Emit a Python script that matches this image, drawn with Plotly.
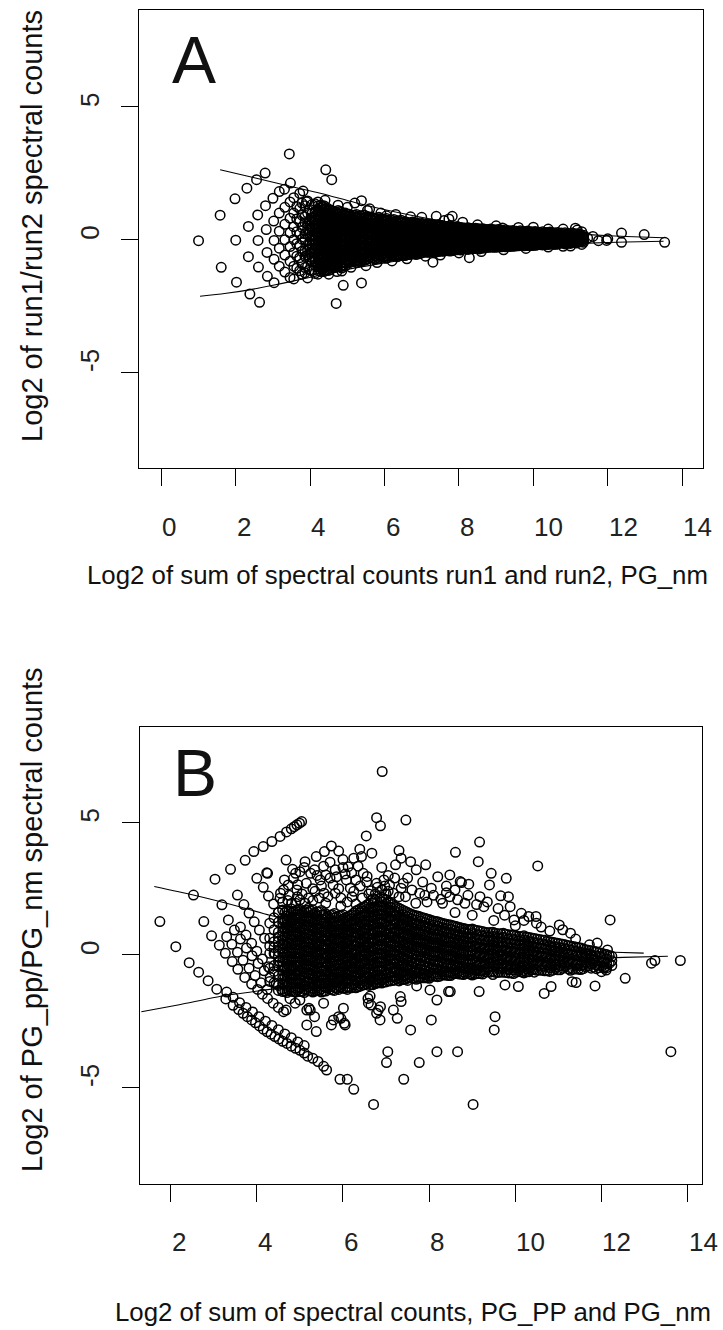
import plotly.graph_objects as go

FONT = "Liberation Sans, Arial, sans-serif"

# ---------------- Panel A data (x = log2 sum, y = log2 ratio) ----------------
a_sparse = [
    [1.0, -0.04], [1.58, 0.92], [1.61, -1.04], [1.98, 1.54], [2.0, -0.02], [2.02, -1.6],
    [2.3, 1.94], [2.34, 0.5], [2.34, -0.64], [2.38, -2.05],
    [2.56, 2.26], [2.59, 0.93], [2.6, -0.03], [2.61, -1.03], [2.64, -2.36],
    [2.79, 2.51], [2.8, 1.28], [2.82, 0.38], [2.84, -0.48], [2.85, -1.38],
    [3.0, 1.56], [3.02, 0.7], [3.03, -0.03], [3.03, -0.74], [3.03, -1.62],
    [3.44, 3.23], [3.31, 1.9], [3.47, 2.13], [3.81, 1.83], [3.9, 1.43],
    [4.42, 2.63], [4.58, 2.26], [4.89, -1.72], [5.38, -1.63], [4.7, -2.4],
    [5.38, 1.47], [5.54, 1.1], [7.3, -0.85], [7.39, 0.88], [7.73, 0.78], [8.1, 0.66],
    [7.82, 0.88], [8.28, -0.68], [8.6, 0.4], [9.17, 0.44], [10.0, 0.47], [11.13, 0.43],
    [11.18, 0.36], [11.22, -0.06], [11.46, 0.06], [11.6, 0.12], [11.75, -0.04], [10.8, -0.25],
    [12.0, 0.03], [11.97, -0.03], [12.37, 0.25], [12.37, -0.1], [12.98, 0.19], [13.53, -0.1],
]
a_edge = [
    [4.4, 1.48], [4.75, 1.3], [5.0, 1.22], [5.2, 1.38], [5.6, 1.16], [5.9, 1.0], [6.05, 0.9],
    [6.3, 0.95], [6.7, 0.86], [7.0, 0.84], [7.6, 0.72], [8.5, 0.56], [9.0, 0.52], [9.6, 0.46],
    [10.4, 0.4], [10.8, 0.4], [11.3, 0.3],
    [4.5, -1.3], [4.72, -1.2], [4.85, -1.18], [5.1, -1.04], [5.5, -0.98], [5.8, -0.86],
    [6.2, -0.8], [6.6, -0.72], [7.1, -0.62], [7.5, -0.58], [8.0, -0.5], [8.6, -0.45],
    [9.2, -0.38], [9.8, -0.33], [10.4, -0.28], [11.0, -0.24], [11.3, -0.18],
]
a_columns = [
    (3.17, [1.81, 1.0, 0.32, -0.32, -1.0]),
    (3.32, [1.22, 0.58, 0.0, -0.58, -1.22]),
    (3.46, [1.42, 0.81, 0.26, -0.26, -0.81, -1.42]),
    (3.56, [1.58, 1.0, 0.49, 0.0, -0.49, -1.0, -1.48]),
    (3.64, [1.25, 0.78, 0.3, -0.15, -0.62, -1.08]),
    (3.72, [1.74, 1.17, 0.68, 0.22, -0.22, -0.68, -1.17]),
    (3.78, [1.38, 0.92, 0.46, 0.02, -0.44, -0.9, -1.3]),
    (3.86, [1.28, 0.86, 0.64, 0.22, 0.0, -0.42, -0.63, -1.05, -1.25]),
    (3.93, [1.46, 1.0, 0.58, 0.38, 0.19, -0.19, -0.38, -0.58, -1.0, -1.44]),
    (3.99, [1.14, 0.74, 0.52, 0.36, 0.1, -0.12, -0.36, -0.52, -0.74, -1.14]),
    (4.05, [1.32, 0.99, 0.82, 0.66, 0.49, 0.33, 0.16, 0.0, -0.17, -0.33, -0.5, -0.66, -0.83,
            -1.16]),
    (4.13, [1.35, 1.04, 0.89, 0.74, 0.58, 0.43, 0.28, 0.12, -0.03, -0.19, -0.34, -0.49, -0.65,
            -0.8, -0.96, -1.27]),
    (4.21, [1.42, 1.28, 1.13, 0.99, 0.85, 0.7, 0.56, 0.42, 0.27, 0.13, -0.01, -0.16, -0.3,
            -0.44, -0.59, -0.73, -0.88, -1.02, -1.16, -1.3]),
    (4.29, [1.3, 1.18, 1.04, 0.9, 0.79, 0.65, 0.51, 0.4, 0.26, 0.12, 0.01, -0.13, -0.27, -0.38,
            -0.52, -0.66, -0.77, -0.91, -1.05, -1.2]),
    (4.37, [1.28, 1.15, 1.03, 0.9, 0.78, 0.66, 0.53, 0.41, 0.28, 0.16, 0.04, -0.09, -0.21,
            -0.34, -0.46, -0.58, -0.71, -0.83, -0.96, -1.08, -1.2]),
    (4.45, [1.2, 1.08, 0.97, 0.85, 0.73, 0.62, 0.5, 0.39, 0.27, 0.15, 0.04, -0.08, -0.2, -0.31,
            -0.43, -0.54, -0.66, -0.78, -0.89, -1.01, -1.13]),
    (4.55, [1.12, 1.0, 0.88, 0.77, 0.65, 0.53, 0.41, 0.3, 0.18, 0.06, -0.06, -0.17, -0.29,
            -0.41, -0.53, -0.64, -0.76, -0.88, -1.0, -1.12]),
    (4.65, [1.06, 0.94, 0.82, 0.71, 0.59, 0.47, 0.36, 0.24, 0.12, 0.01, -0.11, -0.23, -0.34,
            -0.46, -0.58, -0.7, -0.81, -0.93, -1.05]),
    (4.75, [1.1, 0.98, 0.86, 0.75, 0.63, 0.51, 0.4, 0.28, 0.16, 0.05, -0.07, -0.19, -0.3,
            -0.42, -0.54, -0.65, -0.77, -0.89, -1.0]),
    (4.85, [1.03, 0.91, 0.8, 0.68, 0.56, 0.45, 0.33, 0.21, 0.1, -0.02, -0.14, -0.25, -0.37,
            -0.49, -0.6, -0.72, -0.84, -0.96, -1.07]),
    (4.95, [1.0, 0.88, 0.77, 0.65, 0.53, 0.42, 0.3, 0.18, 0.07, -0.05, -0.17, -0.28, -0.4,
            -0.52, -0.63, -0.75, -0.87, -0.98]),
    (5.05, [0.96, 0.85, 0.73, 0.62, 0.5, 0.39, 0.28, 0.16, 0.05, -0.07, -0.18, -0.3, -0.41,
            -0.52, -0.64, -0.75, -0.86]),
    (5.15, [0.92, 0.8, 0.69, 0.57, 0.46, 0.35, 0.23, 0.12, 0.0, -0.11, -0.22, -0.34, -0.45,
            -0.57, -0.68, -0.8]),
    (5.25, [0.95, 0.84, 0.72, 0.61, 0.5, 0.38, 0.27, 0.15, 0.04, -0.08, -0.19, -0.3, -0.42,
            -0.53, -0.65, -0.76, -0.86]),
    (5.35, [0.9, 0.79, 0.67, 0.56, 0.44, 0.33, 0.22, 0.1, -0.01, -0.13, -0.24, -0.35, -0.47,
            -0.58, -0.7, -0.81]),
    (5.45, [0.93, 0.82, 0.7, 0.59, 0.47, 0.36, 0.25, 0.13, 0.02, -0.1, -0.21, -0.32, -0.44,
            -0.55, -0.67, -0.78]),
    (5.55, [0.87, 0.76, 0.64, 0.53, 0.42, 0.3, 0.19, 0.07, -0.04, -0.15, -0.27, -0.38, -0.5,
            -0.61, -0.72]),
    (5.65, [0.85, 0.74, 0.63, 0.52, 0.41, 0.3, 0.19, 0.08, -0.03, -0.14, -0.25, -0.36, -0.47,
            -0.58, -0.69]),
    (5.75, [0.81, 0.7, 0.59, 0.48, 0.37, 0.26, 0.15, 0.04, -0.07, -0.18, -0.29, -0.4, -0.51,
            -0.62, -0.73]),
    (5.85, [0.84, 0.73, 0.62, 0.51, 0.4, 0.29, 0.18, 0.07, -0.04, -0.15, -0.26, -0.37, -0.48,
            -0.59, -0.7]),
    (5.95, [0.78, 0.67, 0.56, 0.45, 0.34, 0.23, 0.12, 0.01, -0.1, -0.21, -0.32, -0.43, -0.54,
            -0.65]),
    (6.05, [0.8, 0.69, 0.58, 0.47, 0.36, 0.26, 0.15, 0.04, -0.07, -0.18, -0.28, -0.39, -0.5,
            -0.61, -0.7]),
    (6.15, [0.74, 0.63, 0.53, 0.42, 0.32, 0.21, 0.11, 0.0, -0.1, -0.21, -0.31, -0.42, -0.52,
            -0.63]),
    (6.25, [0.76, 0.66, 0.55, 0.45, 0.34, 0.24, 0.13, 0.03, -0.08, -0.18, -0.29, -0.39, -0.5,
            -0.6]),
    (6.35, [0.71, 0.61, 0.5, 0.4, 0.29, 0.19, 0.08, -0.02, -0.13, -0.23, -0.34, -0.44, -0.55,
            -0.64]),
    (6.45, [0.73, 0.63, 0.52, 0.42, 0.32, 0.21, 0.11, 0.01, -0.1, -0.2, -0.3, -0.41, -0.51,
            -0.6]),
    (6.55, [0.68, 0.58, 0.48, 0.38, 0.28, 0.18, 0.08, -0.02, -0.12, -0.22, -0.32, -0.42, -0.52,
            -0.6]),
    (6.65, [0.64, 0.54, 0.44, 0.34, 0.24, 0.14, 0.04, -0.06, -0.16, -0.26, -0.36, -0.46, -0.55]),
    (6.75, [0.67, 0.57, 0.47, 0.37, 0.27, 0.17, 0.07, -0.03, -0.13, -0.23, -0.33, -0.43, -0.53]),
    (6.85, [0.62, 0.52, 0.42, 0.32, 0.22, 0.12, 0.02, -0.08, -0.18, -0.28, -0.38, -0.48, -0.56]),
    (6.95, [0.64, 0.55, 0.45, 0.35, 0.25, 0.15, 0.05, -0.05, -0.15, -0.25, -0.35, -0.45, -0.53]),
    (7.05, [0.6, 0.5, 0.41, 0.31, 0.22, 0.12, 0.03, -0.07, -0.16, -0.26, -0.35, -0.45]),
    (7.15, [0.57, 0.48, 0.38, 0.29, 0.19, 0.1, 0.0, -0.09, -0.19, -0.28, -0.38, -0.47]),
    (7.25, [0.59, 0.5, 0.4, 0.31, 0.21, 0.12, 0.02, -0.07, -0.17, -0.26, -0.36, -0.45]),
    (7.35, [0.55, 0.46, 0.36, 0.27, 0.17, 0.08, -0.02, -0.11, -0.21, -0.3, -0.4, -0.48]),
    (7.45, [0.57, 0.48, 0.38, 0.29, 0.2, 0.1, 0.01, -0.08, -0.18, -0.27, -0.36, -0.45]),
    (7.55, [0.53, 0.44, 0.35, 0.26, 0.17, 0.08, -0.01, -0.1, -0.19, -0.28, -0.37, -0.44]),
    (7.65, [0.5, 0.41, 0.32, 0.23, 0.14, 0.05, -0.04, -0.13, -0.22, -0.31, -0.4]),
    (7.75, [0.52, 0.43, 0.34, 0.25, 0.16, 0.07, -0.02, -0.11, -0.2, -0.29, -0.38, -0.43]),
    (7.85, [0.48, 0.39, 0.3, 0.21, 0.12, 0.03, -0.06, -0.15, -0.24, -0.33, -0.41]),
    (7.95, [0.5, 0.41, 0.32, 0.24, 0.15, 0.06, -0.03, -0.12, -0.2, -0.29, -0.38]),
    (8.05, [0.46, 0.37, 0.28, 0.2, 0.11, 0.02, -0.07, -0.15, -0.24, -0.33, -0.39]),
    (8.15, [0.44, 0.35, 0.27, 0.18, 0.1, 0.01, -0.08, -0.16, -0.25, -0.34]),
    (8.25, [0.45, 0.36, 0.28, 0.19, 0.11, 0.02, -0.07, -0.15, -0.24, -0.32, -0.37]),
    (8.35, [0.42, 0.34, 0.25, 0.17, 0.08, 0.0, -0.09, -0.17, -0.26, -0.34]),
    (8.45, [0.43, 0.35, 0.26, 0.18, 0.09, 0.01, -0.08, -0.16, -0.25, -0.33]),
    (8.55, [0.4, 0.32, 0.23, 0.15, 0.06, -0.02, -0.11, -0.19, -0.28, -0.35]),
    (8.65, [0.41, 0.33, 0.24, 0.16, 0.07, -0.01, -0.1, -0.18, -0.27, -0.32]),
    (8.75, [0.38, 0.3, 0.21, 0.13, 0.04, -0.04, -0.13, -0.21, -0.29]),
    (8.85, [0.4, 0.32, 0.23, 0.15, 0.06, -0.02, -0.11, -0.19, -0.28]),
    (8.95, [0.37, 0.29, 0.2, 0.12, 0.03, -0.05, -0.14, -0.22, -0.29]),
    (9.05, [0.38, 0.3, 0.21, 0.13, 0.05, -0.04, -0.12, -0.2, -0.28]),
    (9.15, [0.36, 0.28, 0.19, 0.11, 0.03, -0.06, -0.14, -0.22, -0.27]),
    (9.25, [0.37, 0.29, 0.21, 0.12, 0.04, -0.04, -0.13, -0.21, -0.27]),
    (9.35, [0.34, 0.26, 0.18, 0.1, 0.02, -0.06, -0.14, -0.22, -0.26]),
    (9.45, [0.35, 0.27, 0.19, 0.11, 0.03, -0.05, -0.13, -0.21, -0.25]),
    (9.55, [0.32, 0.24, 0.16, 0.08, 0.0, -0.08, -0.16, -0.23]),
    (9.65, [0.34, 0.26, 0.18, 0.1, 0.02, -0.06, -0.14, -0.22]),
    (9.75, [0.31, 0.23, 0.15, 0.07, -0.01, -0.09, -0.17, -0.23]),
    (9.85, [0.33, 0.25, 0.17, 0.09, 0.01, -0.07, -0.15, -0.22]),
    (9.95, [0.3, 0.22, 0.14, 0.06, -0.02, -0.1, -0.18, -0.22]),
    (10.05, [0.31, 0.23, 0.15, 0.08, 0.0, -0.08, -0.15, -0.21]),
    (10.15, [0.28, 0.2, 0.13, 0.05, -0.03, -0.1, -0.18]),
    (10.25, [0.3, 0.22, 0.15, 0.07, -0.01, -0.08, -0.16, -0.2]),
    (10.35, [0.27, 0.19, 0.12, 0.04, -0.04, -0.11, -0.18]),
    (10.45, [0.29, 0.21, 0.14, 0.06, -0.02, -0.09, -0.17]),
    (10.55, [0.26, 0.18, 0.11, 0.03, -0.05, -0.12, -0.18]),
    (10.65, [0.27, 0.19, 0.12, 0.05, -0.03, -0.1, -0.17]),
    (10.75, [0.25, 0.17, 0.1, 0.03, -0.05, -0.12]),
    (10.85, [0.26, 0.18, 0.11, 0.04, -0.04, -0.11, -0.16]),
    (10.95, [0.23, 0.16, 0.09, 0.02, -0.06, -0.13]),
    (11.05, [0.25, 0.17, 0.1, 0.03, -0.04, -0.11]),
    (11.15, [0.22, 0.15, 0.08, 0.01, -0.06, -0.13]),
    (11.25, [0.2, 0.13, 0.06, -0.01, -0.08]),
    (11.35, [0.17, 0.1, 0.03, -0.04, -0.1]),
]
# further points read in the solid core of panel A (between the columns above)
a_columns_fill = [
    (4.25, [1.2, 0.95, 0.7, 0.47, 0.2, -0.06, -0.33, -0.6, -0.85, -1.1]),
    (4.33, [1.24, 0.98, 0.72, 0.45, 0.19, -0.08, -0.32, -0.56, -0.82, -1.12]),
    (4.41, [1.16, 0.92, 0.67, 0.44, 0.21, -0.02, -0.26, -0.49, -0.72, -0.95, -1.17]),
    (4.5, [1.14, 0.93, 0.71, 0.47, 0.24, 0.01, -0.23, -0.46, -0.69, -0.93, -1.16]),
    (4.6, [1.08, 0.88, 0.65, 0.42, 0.2, -0.04, -0.28, -0.52, -0.75, -0.99]),
    (4.7, [1.04, 0.81, 0.57, 0.34, 0.1, -0.13, -0.36, -0.6, -0.83, -1.03]),
    (4.8, [1.06, 0.85, 0.62, 0.39, 0.15, -0.08, -0.31, -0.55, -0.79, -1.02]),
    (4.9, [0.98, 0.76, 0.53, 0.3, 0.06, -0.17, -0.4, -0.63, -0.86, -1.0]),
    (5.0, [0.95, 0.78, 0.55, 0.33, 0.1, -0.12, -0.35, -0.58, -0.8]),
    (5.1, [0.9, 0.68, 0.45, 0.22, 0.0, -0.23, -0.46, -0.68, -0.84]),
    (5.2, [0.92, 0.72, 0.5, 0.28, 0.06, -0.16, -0.38, -0.6, -0.8]),
    (5.3, [0.86, 0.64, 0.42, 0.2, -0.02, -0.24, -0.46, -0.68, -0.82]),
    (5.4, [0.88, 0.66, 0.44, 0.22, 0.0, -0.22, -0.44, -0.66, -0.78]),
    (5.5, [0.84, 0.62, 0.41, 0.2, -0.02, -0.23, -0.45, -0.66, -0.76]),
    (5.6, [0.82, 0.6, 0.39, 0.18, -0.03, -0.24, -0.45, -0.66]),
    (5.7, [0.8, 0.59, 0.38, 0.17, -0.04, -0.25, -0.46, -0.68]),
    (5.8, [0.79, 0.58, 0.37, 0.16, -0.05, -0.26, -0.47, -0.66]),
    (5.9, [0.8, 0.6, 0.4, 0.2, 0.0, -0.2, -0.4, -0.6]),
    (6.0, [0.76, 0.56, 0.36, 0.16, -0.04, -0.24, -0.44, -0.64]),
    (6.1, [0.72, 0.52, 0.33, 0.14, -0.06, -0.25, -0.45, -0.62]),
    (6.2, [0.73, 0.54, 0.35, 0.16, -0.03, -0.22, -0.41, -0.6]),
    (6.3, [0.69, 0.5, 0.31, 0.12, -0.07, -0.26, -0.45, -0.6]),
    (6.4, [0.7, 0.51, 0.32, 0.14, -0.05, -0.23, -0.42, -0.58]),
    (6.5, [0.66, 0.48, 0.3, 0.12, -0.06, -0.24, -0.42, -0.56]),
    (6.6, [0.65, 0.47, 0.29, 0.11, -0.07, -0.25, -0.43, -0.55]),
    (6.7, [0.62, 0.44, 0.27, 0.1, -0.08, -0.25, -0.42, -0.54]),
    (6.8, [0.63, 0.46, 0.29, 0.12, -0.05, -0.22, -0.39, -0.52]),
    (6.9, [0.6, 0.43, 0.26, 0.09, -0.08, -0.25, -0.42, -0.51]),
    (7.0, [0.58, 0.41, 0.25, 0.08, -0.09, -0.25, -0.41, -0.5]),
    (7.1, [0.55, 0.39, 0.23, 0.07, -0.09, -0.25, -0.41]),
    (7.2, [0.56, 0.4, 0.24, 0.08, -0.08, -0.24, -0.4, -0.47]),
    (7.3, [0.54, 0.38, 0.22, 0.06, -0.1, -0.26, -0.42]),
    (7.4, [0.53, 0.38, 0.23, 0.08, -0.07, -0.22, -0.37, -0.46]),
    (7.5, [0.51, 0.36, 0.21, 0.06, -0.09, -0.24, -0.39]),
    (7.6, [0.5, 0.35, 0.2, 0.06, -0.09, -0.24, -0.38, -0.43]),
    (7.7, [0.48, 0.34, 0.2, 0.06, -0.08, -0.22, -0.36]),
    (7.8, [0.49, 0.35, 0.21, 0.07, -0.07, -0.21, -0.35, -0.42]),
    (7.9, [0.46, 0.33, 0.19, 0.05, -0.09, -0.22, -0.36]),
    (8.0, [0.47, 0.33, 0.2, 0.06, -0.07, -0.21, -0.34]),
    (8.1, [0.44, 0.31, 0.18, 0.05, -0.08, -0.21, -0.34]),
    (8.2, [0.43, 0.3, 0.17, 0.04, -0.09, -0.22, -0.35]),
    (8.3, [0.42, 0.29, 0.16, 0.03, -0.1, -0.22, -0.34]),
    (8.4, [0.4, 0.28, 0.15, 0.03, -0.1, -0.22, -0.33]),
    (8.5, [0.41, 0.29, 0.17, 0.05, -0.07, -0.19, -0.31]),
    (8.6, [0.39, 0.27, 0.15, 0.03, -0.09, -0.21, -0.31]),
    (8.7, [0.38, 0.27, 0.15, 0.04, -0.08, -0.19, -0.3]),
    (8.8, [0.36, 0.25, 0.14, 0.02, -0.09, -0.2, -0.29]),
    (8.9, [0.37, 0.26, 0.15, 0.04, -0.07, -0.18, -0.28]),
    (9.0, [0.35, 0.24, 0.13, 0.02, -0.09, -0.2, -0.28]),
    (9.1, [0.34, 0.24, 0.13, 0.03, -0.08, -0.18, -0.26]),
    (9.2, [0.33, 0.23, 0.12, 0.02, -0.08, -0.19, -0.26]),
    (9.3, [0.33, 0.23, 0.13, 0.03, -0.07, -0.17, -0.25]),
    (9.4, [0.31, 0.21, 0.11, 0.01, -0.09, -0.19, -0.24]),
    (9.5, [0.32, 0.22, 0.12, 0.03, -0.07, -0.17, -0.24]),
    (9.6, [0.3, 0.2, 0.1, 0.01, -0.09, -0.18, -0.23]),
    (9.7, [0.3, 0.21, 0.12, 0.02, -0.07, -0.16, -0.22]),
    (9.8, [0.29, 0.2, 0.11, 0.02, -0.07, -0.16, -0.22]),
    (9.9, [0.28, 0.19, 0.1, 0.01, -0.08, -0.17, -0.21]),
    (10.0, [0.28, 0.19, 0.11, 0.02, -0.06, -0.15, -0.21]),
    (10.1, [0.27, 0.18, 0.1, 0.01, -0.07, -0.15, -0.2]),
    (10.2, [0.26, 0.18, 0.1, 0.02, -0.06, -0.14, -0.19]),
    (10.3, [0.25, 0.17, 0.09, 0.01, -0.07, -0.15, -0.19]),
    (10.4, [0.25, 0.17, 0.1, 0.02, -0.06, -0.13, -0.18]),
    (10.5, [0.24, 0.16, 0.08, 0.0, -0.07, -0.15]),
    (10.6, [0.23, 0.16, 0.09, 0.01, -0.06, -0.13, -0.17]),
    (10.7, [0.22, 0.15, 0.07, 0.0, -0.07, -0.14]),
    (10.8, [0.22, 0.15, 0.08, 0.01, -0.06, -0.13]),
    (10.9, [0.21, 0.14, 0.07, 0.0, -0.07, -0.14]),
    (11.0, [0.2, 0.13, 0.06, -0.01, -0.08, -0.14]),
    (11.1, [0.19, 0.12, 0.05, -0.02, -0.09]),
    (11.2, [0.18, 0.11, 0.04, -0.03, -0.1]),
    (11.3, [0.15, 0.08, 0.01, -0.06]),
]
a_upper_x = [1.58, 2.5, 3.4, 4.3, 5.2, 6.2, 7.2, 8.2, 9.3, 10.4, 11.6, 12.5, 13.5]
a_upper_y = [2.63, 2.33, 2.03, 1.74, 1.4, 1.07, 0.79, 0.57, 0.4, 0.28, 0.18, 0.12, 0.07]
a_lower_x = [1.04, 1.7, 2.4, 3.0, 3.5, 4.2, 5.0, 5.8, 6.6, 7.3, 8.2, 9.3, 10.5, 11.5, 12.5, 13.5]
a_lower_y = [-2.13, -2.03, -1.88, -1.72, -1.57, -1.36, -1.12, -0.92, -0.75, -0.62, -0.46,
             -0.3, -0.2, -0.13, -0.09, -0.06]

# ---------------- Panel B data ----------------
b_left = [
    [1.75, 1.26], [2.12, 0.31], [2.53, 2.26], [3.03, 2.86], [3.39, 3.23],
    [3.73, 3.57], [3.93, 3.9], [4.15, 4.09], [4.35, 4.28], [4.54, 4.47], [4.69, 4.64],
    [4.8, 4.76], [4.87, 4.84], [4.93, 4.91], [4.99, 4.97], [5.04, 5.03],
    [4.0, 2.89], [4.23, 3.1], [4.68, 3.58], [5.12, 3.52], [4.83, 3.23], [4.9, 3.08],
    [5.0, 3.14], [4.85, 2.89], [4.64, 2.83], [4.73, 2.64], [4.93, 2.45], [4.62, 2.45],
    [4.54, 2.14], [5.0, 2.08], [5.12, 1.95], [4.81, 1.95], [4.55, 2.33], [4.94, 2.2], [4.72, 2.05],
]
b_str1 = [
    [2.43, -0.29], [2.65, -0.65], [2.87, -0.97], [3.07, -1.29], [3.28, -1.66], [3.45, -1.9],
    [3.58, -2.06], [3.68, -2.2], [3.78, -2.33], [3.88, -2.45], [3.97, -2.56], [4.06, -2.68],
    [4.15, -2.8], [4.24, -2.9], [4.33, -2.99], [4.42, -3.08], [4.51, -3.17], [4.6, -3.26],
    [4.7, -3.34], [4.8, -3.44], [4.9, -3.52], [5.0, -3.6], [5.1, -3.7], [5.18, -3.82],
    [5.3, -3.9], [5.42, -4.02], [5.55, -4.2], [5.62, -4.34], [5.93, -4.69], [6.1, -4.69],
    [6.25, -5.07], [6.71, -5.64],
]
b_str1b = [
    [3.3, -1.4], [3.45, -1.6], [3.6, -1.8], [3.75, -1.98], [3.9, -2.15], [4.05, -2.33],
    [4.2, -2.5], [4.35, -2.66], [4.5, -2.82], [4.65, -2.98], [4.8, -3.12], [4.95, -3.28], [5.1, -3.42],
]
b_str2 = [
    [2.77, 1.26], [2.95, 0.72], [3.13, 0.37], [3.27, 0.06], [3.43, -0.25], [3.56, -0.54],
    [3.72, -0.85], [3.88, -1.1], [4.02, -1.3], [4.13, -1.48], [4.25, -1.64], [4.38, -1.82],
    [4.5, -1.98], [4.62, -2.14],
]
b_str2b = [[3.3, 0.69], [3.42, 0.4], [3.55, 0.1], [3.68, -0.2], [3.82, -0.5], [3.96, -0.78],
           [4.1, -1.05], [4.24, -1.3]]
b_str3 = [
    [3.19, 1.89], [3.34, 1.32], [3.48, 0.94], [3.62, 0.6], [3.76, 0.26], [3.89, -0.03],
    [4.03, -0.32], [4.17, -0.6], [4.31, -0.85], [4.45, -1.08], [4.58, -1.3],
]
b_str3b = [[3.62, 1.05], [3.75, 0.75], [3.88, 0.44], [4.0, 0.14], [4.13, -0.15], [4.27, -0.45]]
b_str4 = [
    [3.55, 2.26], [3.7, 1.9], [3.82, 1.58], [3.94, 1.25], [4.06, 0.94], [4.18, 0.63],
    [4.3, 0.34], [4.42, 0.05], [4.53, -0.24], [4.64, -0.52],
]
b_str5 = [[4.15, 2.55], [4.27, 2.22], [4.39, 1.92], [4.5, 1.6], [4.61, 1.3], [4.72, 1.0]]
b_upper = [
    [6.91, 6.92], [6.78, 5.18], [6.87, 4.87], [7.46, 5.09], [6.54, 4.49], [9.17, 4.26],
    [8.61, 3.87], [9.14, 3.52], [10.52, 3.36], [5.73, 4.11], [5.57, 3.9], [5.9, 3.92],
    [6.39, 3.99], [6.67, 3.84], [6.43, 3.71], [5.38, 3.71], [5.34, 3.21], [5.6, 3.02],
    [5.82, 3.21], [6.12, 3.33], [6.47, 3.08], [6.56, 2.96], [7.3, 3.94], [7.35, 3.65],
    [7.22, 3.4], [7.57, 3.52], [7.7, 3.21], [7.92, 3.4], [8.48, 3.02], [8.75, 2.73],
    [8.92, 2.67], [9.44, 3.08], [9.79, 2.89], [9.84, 2.2], [9.66, 2.23], [9.4, 2.64],
    [9.18, 2.2], [10.48, 1.45], [11.02, 1.13], [11.28, 0.82], [12.2, 1.32], [11.72, 0.38],
    [12.14, 0.19], [4.25, 3.08], [6.3, 1.92], [6.78, 2.7], [8.05, 2.52], [8.27, 2.1],
    [8.66, 2.08], [8.72, 2.77], [5.25, 3.08], [5.47, 2.83], [5.77, 2.64], [5.56, 2.33],
    [5.82, 2.33], [6.17, 2.52], [6.21, 2.2], [6.08, 2.83], [6.3, 2.83], [6.95, 2.83],
    [7.08, 2.64], [7.17, 2.33], [7.35, 2.52], [7.78, 2.33], [7.69, 1.95], [8.31, 1.95],
    [8.48, 2.2], [8.83, 1.95], [9.27, 1.82], [9.88, 1.82], [10.14, 1.57], [10.31, 1.45],
    [9.97, 1.32], [10.49, 1.2], [5.3, 2.05], [5.6, 1.95], [5.95, 1.85], [6.6, 2.3],
    [6.9, 2.45], [7.45, 2.2], [7.95, 2.0], [8.6, 1.6], [9.0, 1.5], [9.5, 1.3], [10.0, 1.1],
    [10.8, 0.9], [11.4, 0.6], [11.9, 0.45], [5.7, 3.5], [6.0, 3.6], [6.25, 3.65],
    [6.9, 3.3], [7.05, 3.0], [7.5, 2.9], [7.85, 2.75], [8.2, 2.95], [8.4, 2.6],
    [6.65, 2.42], [6.8, 2.55], [6.97, 2.6], [7.05, 2.4], [6.75, 2.3], [7.0, 2.3],
    [4.6, 2.0], [4.75, 2.25], [4.9, 1.95], [5.05, 2.3], [5.2, 2.15], [5.35, 2.4],
    [5.45, 2.15], [5.5, 2.6], [5.65, 2.2], [5.7, 2.9], [5.9, 2.5], [5.95, 2.15],
    [6.05, 3.05], [6.1, 2.0], [6.25, 2.4], [6.4, 2.6], [6.45, 2.15], [6.55, 2.75],
    [6.2, 3.1], [5.4, 3.0], [5.15, 2.7], [5.3, 2.5], [4.95, 2.65], [5.85, 2.95],
    [6.35, 3.35], [6.0, 3.3], [5.55, 3.35], [5.1, 3.3], [7.2, 2.9], [7.4, 2.7],
    [7.6, 2.45], [7.3, 2.2], [7.9, 2.25], [8.1, 2.25], [8.4, 2.35], [8.6, 2.45],
    [8.9, 2.25], [9.1, 1.9], [9.35, 2.0], [9.6, 1.75], [9.75, 1.5], [10.2, 1.3],
    [10.6, 1.05], [11.1, 0.95],
]
b_lower = [
    [4.68, -2.08], [4.77, -1.65], [5.0, -1.7], [5.16, -2.08], [5.16, -2.64], [5.21, -2.01],
    [5.34, -2.33], [5.38, -2.89], [5.73, -2.64], [5.95, -2.39], [6.03, -2.58], [5.78, -2.45],
    [5.24, -2.08], [5.55, -1.82], [6.01, -2.01], [4.89, -1.82], [6.59, -1.82], [6.82, -2.08],
    [6.86, -2.45], [6.63, -1.55], [7.17, -2.08], [7.33, -1.57], [7.71, -1.17], [8.02, -1.32],
    [8.45, -1.38], [6.78, -2.2], [6.87, -1.95], [7.26, -2.39], [7.57, -2.83], [8.18, -1.7],
    [9.16, -1.38], [9.53, -2.33], [9.51, -2.83], [10.67, -1.45], [10.83, -1.19],
    [11.32, -1.01], [11.85, -1.17], [12.55, -0.88], [13.16, -0.31], [13.24, -0.21],
    [13.83, -0.21], [13.61, -3.65], [7.04, -3.65], [7.01, -4.06], [7.41, -4.69],
    [7.77, -4.06], [8.18, -3.65], [8.66, -3.65], [9.02, -5.64], [6.58, -1.64], [7.35, -1.76],
    [6.65, -1.89], [5.9, -2.33], [6.05, -2.64], [8.05, -2.45], [11.41, -1.04], [10.07, -1.19],
    [9.76, -1.13], [8.49, -1.38], [12.0, -0.63], [12.11, -0.57], [11.8, -0.19], [12.06, -0.5],
]
b_columns = [
    (4.3, [1.2, 0.63, 0.06, -0.5, -1.0]),
    (4.4, [1.4, 0.95, 0.5, 0.28, 0.05, -0.4, -0.62, -1.05]),
    (4.5, [1.6, 1.23, 0.86, 0.68, 0.5, 0.31, 0.13, -0.05, -0.24, -0.42, -0.79, -1.15, -1.34]),
    (4.6, [1.7, 1.38, 1.21, 1.05, 0.89, 0.72, 0.56, 0.4, 0.23, 0.07, -0.1, -0.26, -0.42,
           -0.59, -0.75, -0.91, -1.08, -1.38]),
    (4.7, [1.64, 1.48, 1.31, 1.15, 0.98, 0.82, 0.66, 0.49, 0.33, 0.16, 0.0, -0.17, -0.33,
           -0.49, -0.66, -0.82, -0.98, -1.15, -1.31, -1.42]),
    (4.8, [1.74, 1.58, 1.42, 1.25, 1.09, 0.92, 0.76, 0.6, 0.43, 0.27, 0.11, -0.06, -0.22,
           -0.38, -0.55, -0.71, -0.87, -1.04, -1.2, -1.36]),
    (4.9, [1.68, 1.52, 1.35, 1.19, 1.03, 0.86, 0.7, 0.54, 0.37, 0.21, 0.05, -0.12, -0.28,
           -0.44, -0.61, -0.77, -0.93, -1.1, -1.26, -1.4]),
    (5.0, [1.72, 1.55, 1.39, 1.22, 1.06, 0.89, 0.73, 0.57, 0.4, 0.24, 0.08, -0.09, -0.25,
           -0.41, -0.58, -0.74, -0.9, -1.07, -1.23, -1.38]),
    (5.1, [1.65, 1.49, 1.32, 1.16, 0.99, 0.83, 0.67, 0.5, 0.34, 0.17, 0.01, -0.15, -0.32,
           -0.48, -0.65, -0.81, -0.97, -1.14, -1.3, -1.42]),
    (5.2, [1.76, 1.6, 1.43, 1.27, 1.1, 0.94, 0.78, 0.61, 0.45, 0.28, 0.12, -0.04, -0.21,
           -0.37, -0.54, -0.7, -0.86, -1.03, -1.19, -1.35]),
    (5.3, [1.7, 1.53, 1.37, 1.2, 1.04, 0.88, 0.71, 0.55, 0.38, 0.22, 0.06, -0.11, -0.27,
           -0.44, -0.6, -0.76, -0.93, -1.09, -1.26, -1.4]),
    (5.4, [1.62, 1.46, 1.29, 1.13, 0.96, 0.8, 0.63, 0.47, 0.31, 0.14, -0.02, -0.19, -0.35,
           -0.51, -0.68, -0.84, -1.01, -1.17, -1.33]),
    (5.5, [1.68, 1.51, 1.35, 1.18, 1.02, 0.85, 0.69, 0.53, 0.36, 0.2, 0.03, -0.13, -0.29,
           -0.46, -0.62, -0.79, -0.95, -1.11, -1.28, -1.4]),
    (5.6, [1.55, 1.39, 1.22, 1.06, 0.89, 0.73, 0.57, 0.4, 0.24, 0.07, -0.09, -0.25, -0.42,
           -0.58, -0.75, -0.91, -1.07, -1.24, -1.36]),
    (5.7, [1.5, 1.33, 1.17, 1.0, 0.84, 0.68, 0.51, 0.35, 0.18, 0.02, -0.14, -0.31, -0.47,
           -0.64, -0.8, -0.96, -1.13, -1.29]),
    (5.8, [1.56, 1.4, 1.23, 1.07, 0.9, 0.74, 0.58, 0.41, 0.25, 0.08, -0.08, -0.24, -0.41,
           -0.57, -0.74, -0.9, -1.06, -1.23, -1.34]),
    (5.9, [1.46, 1.3, 1.13, 0.97, 0.81, 0.64, 0.48, 0.31, 0.15, -0.01, -0.18, -0.34, -0.51,
           -0.67, -0.83, -1.0, -1.16, -1.3]),
    (6.0, [1.52, 1.35, 1.19, 1.02, 0.86, 0.7, 0.53, 0.37, 0.2, 0.04, -0.12, -0.29, -0.45,
           -0.62, -0.78, -0.94, -1.11, -1.26]),
    (6.1, [1.42, 1.26, 1.09, 0.93, 0.77, 0.6, 0.44, 0.27, 0.11, -0.05, -0.22, -0.38, -0.55,
           -0.71, -0.87, -1.04, -1.2, -1.3]),
    (6.2, [1.52, 1.35, 1.19, 1.02, 0.86, 0.69, 0.53, 0.37, 0.2, 0.04, -0.13, -0.29, -0.45,
           -0.62, -0.78, -0.95, -1.11, -1.24]),
    (6.3, [1.66, 1.49, 1.33, 1.16, 1.0, 0.83, 0.67, 0.51, 0.34, 0.18, 0.01, -0.15, -0.31,
           -0.48, -0.64, -0.81, -0.97, -1.13, -1.24]),
    (6.4, [1.74, 1.58, 1.41, 1.25, 1.08, 0.92, 0.76, 0.59, 0.43, 0.26, 0.1, -0.06, -0.23,
           -0.39, -0.56, -0.72, -0.88, -1.05, -1.18]),
    (6.5, [1.82, 1.65, 1.49, 1.32, 1.16, 1.0, 0.83, 0.67, 0.5, 0.34, 0.18, 0.01, -0.15,
           -0.32, -0.48, -0.64, -0.81, -0.97, -1.12]),
    (6.6, [1.92, 1.75, 1.59, 1.42, 1.26, 1.1, 0.93, 0.77, 0.6, 0.44, 0.28, 0.11, -0.05,
           -0.22, -0.38, -0.54, -0.71, -0.87, -1.03, -1.15]),
    (6.7, [2.12, 1.95, 1.79, 1.62, 1.46, 1.3, 1.13, 0.97, 0.8, 0.64, 0.48, 0.31, 0.15,
           -0.02, -0.18, -0.34, -0.51, -0.67, -0.83, -1.0, -1.12]),
    (6.8, [2.02, 1.86, 1.69, 1.53, 1.37, 1.2, 1.04, 0.87, 0.71, 0.55, 0.38, 0.22, 0.05,
           -0.11, -0.27, -0.44, -0.6, -0.77, -0.93, -1.06]),
    (6.9, [2.18, 2.01, 1.85, 1.68, 1.52, 1.36, 1.19, 1.03, 0.86, 0.7, 0.54, 0.37, 0.21,
           0.04, -0.12, -0.28, -0.45, -0.61, -0.78, -0.94, -1.06]),
    (7.0, [2.08, 1.92, 1.75, 1.59, 1.43, 1.26, 1.1, 0.93, 0.77, 0.61, 0.44, 0.28, 0.11,
           -0.05, -0.21, -0.38, -0.54, -0.71, -0.87, -1.02]),
    (7.1, [1.96, 1.8, 1.63, 1.47, 1.31, 1.14, 0.98, 0.81, 0.65, 0.49, 0.32, 0.16, -0.01,
           -0.17, -0.33, -0.5, -0.66, -0.83, -0.98]),
    (7.2, [1.83, 1.67, 1.5, 1.34, 1.18, 1.01, 0.85, 0.68, 0.52, 0.36, 0.19, 0.03, -0.14,
           -0.3, -0.46, -0.63, -0.79, -0.95]),
    (7.3, [1.76, 1.6, 1.43, 1.27, 1.1, 0.94, 0.78, 0.61, 0.45, 0.28, 0.12, -0.04, -0.21,
           -0.37, -0.54, -0.7, -0.86, -0.98]),
    (7.4, [1.68, 1.52, 1.35, 1.19, 1.02, 0.86, 0.7, 0.53, 0.37, 0.2, 0.04, -0.12, -0.29,
           -0.45, -0.62, -0.78, -0.92]),
    (7.5, [1.6, 1.44, 1.27, 1.11, 0.94, 0.78, 0.62, 0.45, 0.29, 0.12, -0.04, -0.2, -0.37,
           -0.53, -0.7, -0.86, -0.96]),
    (7.6, [1.53, 1.37, 1.2, 1.04, 0.87, 0.71, 0.55, 0.38, 0.22, 0.05, -0.11, -0.27, -0.44,
           -0.6, -0.77, -0.88]),
    (7.7, [1.48, 1.32, 1.15, 0.99, 0.82, 0.66, 0.5, 0.33, 0.17, 0.0, -0.16, -0.32, -0.49,
           -0.65, -0.82, -0.92]),
    (7.8, [1.43, 1.27, 1.1, 0.94, 0.77, 0.61, 0.45, 0.28, 0.12, -0.05, -0.21, -0.37, -0.54,
           -0.7, -0.84]),
    (7.9, [1.38, 1.22, 1.05, 0.89, 0.72, 0.56, 0.4, 0.23, 0.07, -0.1, -0.26, -0.42, -0.59,
           -0.75, -0.86]),
    (8.0, [1.34, 1.18, 1.01, 0.85, 0.68, 0.52, 0.36, 0.19, 0.03, -0.14, -0.3, -0.46, -0.63,
           -0.79, -0.88]),
    (8.1, [1.28, 1.12, 0.95, 0.79, 0.62, 0.46, 0.3, 0.13, -0.03, -0.2, -0.36, -0.52, -0.69,
           -0.8]),
    (8.2, [1.25, 1.09, 0.92, 0.76, 0.59, 0.43, 0.27, 0.1, -0.06, -0.23, -0.39, -0.55, -0.72,
           -0.82]),
    (8.3, [1.2, 1.04, 0.87, 0.71, 0.54, 0.38, 0.22, 0.05, -0.11, -0.28, -0.44, -0.6, -0.74]),
    (8.4, [1.16, 1.0, 0.83, 0.67, 0.5, 0.34, 0.18, 0.01, -0.15, -0.32, -0.48, -0.64, -0.76]),
    (8.5, [1.13, 0.97, 0.8, 0.64, 0.47, 0.31, 0.15, -0.02, -0.18, -0.35, -0.51, -0.67, -0.78]),
    (8.6, [1.08, 0.92, 0.75, 0.59, 0.42, 0.26, 0.1, -0.07, -0.23, -0.4, -0.56, -0.7]),
    (8.7, [1.04, 0.88, 0.71, 0.55, 0.38, 0.22, 0.06, -0.11, -0.27, -0.44, -0.6, -0.72]),
    (8.8, [1.0, 0.84, 0.67, 0.51, 0.34, 0.18, 0.02, -0.15, -0.31, -0.48, -0.64, -0.74]),
    (8.9, [0.96, 0.8, 0.63, 0.47, 0.3, 0.14, -0.02, -0.19, -0.35, -0.52, -0.66]),
    (9.0, [0.98, 0.81, 0.65, 0.48, 0.32, 0.16, -0.01, -0.17, -0.34, -0.5, -0.66, -0.76]),
    (9.12, [0.92, 0.76, 0.59, 0.43, 0.26, 0.1, -0.06, -0.23, -0.39, -0.56, -0.7]),
    (9.24, [0.88, 0.72, 0.55, 0.39, 0.22, 0.06, -0.1, -0.27, -0.43, -0.6, -0.72]),
    (9.36, [0.84, 0.68, 0.51, 0.35, 0.18, 0.02, -0.14, -0.31, -0.47, -0.64]),
    (9.48, [0.86, 0.7, 0.53, 0.37, 0.2, 0.04, -0.12, -0.29, -0.45, -0.62, -0.74]),
    (9.6, [0.8, 0.64, 0.47, 0.31, 0.14, -0.02, -0.18, -0.35, -0.51, -0.66]),
    (9.72, [0.82, 0.66, 0.49, 0.33, 0.16, 0.0, -0.16, -0.33, -0.49, -0.65]),
    (9.84, [0.76, 0.6, 0.43, 0.27, 0.1, -0.06, -0.22, -0.39, -0.55, -0.68]),
    (9.96, [0.74, 0.58, 0.41, 0.25, 0.08, -0.08, -0.24, -0.41, -0.57, -0.7]),
    (10.08, [0.7, 0.54, 0.37, 0.21, 0.04, -0.12, -0.28, -0.45, -0.6]),
    (10.2, [0.72, 0.56, 0.39, 0.23, 0.06, -0.1, -0.26, -0.43, -0.59, -0.68]),
    (10.32, [0.66, 0.5, 0.33, 0.17, 0.0, -0.16, -0.32, -0.49, -0.63]),
    (10.44, [0.62, 0.46, 0.29, 0.13, -0.04, -0.2, -0.36, -0.53, -0.65]),
    (10.56, [0.58, 0.42, 0.25, 0.09, -0.08, -0.24, -0.4, -0.57]),
    (10.68, [0.55, 0.39, 0.22, 0.06, -0.11, -0.27, -0.43, -0.6]),
    (10.8, [0.5, 0.34, 0.17, 0.01, -0.16, -0.32, -0.48, -0.62]),
    (10.92, [0.46, 0.3, 0.13, -0.03, -0.2, -0.36, -0.52]),
    (11.04, [0.42, 0.26, 0.09, -0.07, -0.24, -0.4, -0.56]),
    (11.16, [0.38, 0.22, 0.05, -0.11, -0.28, -0.44]),
    (11.28, [0.34, 0.18, 0.01, -0.15, -0.32, -0.48, -0.58]),
    (11.4, [0.3, 0.14, -0.03, -0.19, -0.36, -0.52]),
    (11.52, [0.26, 0.1, -0.07, -0.23, -0.4, -0.55]),
    (11.64, [0.2, 0.04, -0.12, -0.29, -0.45]),
    (11.76, [0.16, 0.0, -0.16, -0.33, -0.5]),
    (11.88, [0.12, -0.05, -0.21, -0.38, -0.52]),
    (12.0, [0.06, -0.1, -0.27, -0.43]),
    (12.12, [0.02, -0.15, -0.32, -0.48]),
    (12.24, [-0.05, -0.22, -0.4]),
]
# further points read in the solid core of panel B (between the columns above)
b_columns_fill = [
    (4.65, [1.6, 1.3, 1.0, 0.7, 0.4, 0.1, -0.2, -0.5, -0.8, -1.1, -1.36]),
    (4.75, [1.66, 1.36, 1.05, 0.75, 0.45, 0.15, -0.15, -0.45, -0.75, -1.05, -1.35]),
    (4.85, [1.62, 1.32, 1.02, 0.72, 0.42, 0.12, -0.18, -0.48, -0.78, -1.08, -1.38]),
    (4.95, [1.7, 1.4, 1.1, 0.8, 0.5, 0.2, -0.1, -0.4, -0.7, -1.0, -1.3]),
    (5.05, [1.6, 1.3, 1.0, 0.7, 0.4, 0.1, -0.2, -0.5, -0.8, -1.1, -1.38]),
    (5.15, [1.7, 1.4, 1.1, 0.8, 0.5, 0.2, -0.1, -0.4, -0.7, -1.0, -1.3]),
    (5.25, [1.66, 1.35, 1.05, 0.75, 0.45, 0.15, -0.15, -0.45, -0.75, -1.05, -1.35]),
    (5.35, [1.58, 1.28, 0.98, 0.68, 0.38, 0.08, -0.22, -0.52, -0.82, -1.12, -1.36]),
    (5.45, [1.62, 1.32, 1.02, 0.72, 0.42, 0.12, -0.18, -0.48, -0.78, -1.08, -1.34]),
    (5.55, [1.52, 1.22, 0.92, 0.62, 0.32, 0.02, -0.28, -0.58, -0.88, -1.18, -1.36]),
    (5.65, [1.46, 1.16, 0.86, 0.56, 0.26, -0.04, -0.34, -0.64, -0.94, -1.24]),
    (5.75, [1.52, 1.22, 0.92, 0.62, 0.32, 0.02, -0.28, -0.58, -0.88, -1.18, -1.32]),
    (5.85, [1.44, 1.14, 0.84, 0.54, 0.24, -0.06, -0.36, -0.66, -0.96, -1.26]),
    (5.95, [1.48, 1.18, 0.88, 0.58, 0.28, -0.02, -0.32, -0.62, -0.92, -1.22]),
    (6.05, [1.4, 1.1, 0.8, 0.5, 0.2, -0.1, -0.4, -0.7, -1.0, -1.26]),
    (6.15, [1.46, 1.16, 0.86, 0.56, 0.26, -0.04, -0.34, -0.64, -0.94, -1.22]),
    (6.25, [1.58, 1.28, 0.98, 0.68, 0.38, 0.08, -0.22, -0.52, -0.82, -1.12]),
    (6.35, [1.7, 1.4, 1.1, 0.8, 0.5, 0.2, -0.1, -0.4, -0.7, -1.0, -1.2]),
    (6.45, [1.78, 1.48, 1.18, 0.88, 0.58, 0.28, -0.02, -0.32, -0.62, -0.92, -1.14]),
    (6.55, [1.88, 1.58, 1.28, 0.98, 0.68, 0.38, 0.08, -0.22, -0.52, -0.82, -1.1]),
    (6.65, [2.05, 1.75, 1.45, 1.15, 0.85, 0.55, 0.25, -0.05, -0.35, -0.65, -0.95, -1.12]),
    (6.75, [2.08, 1.78, 1.48, 1.18, 0.88, 0.58, 0.28, -0.02, -0.32, -0.62, -0.92, -1.08]),
    (6.85, [2.14, 1.84, 1.54, 1.24, 0.94, 0.64, 0.34, 0.04, -0.26, -0.56, -0.86, -1.04]),
    (6.95, [2.12, 1.82, 1.52, 1.22, 0.92, 0.62, 0.32, 0.02, -0.28, -0.58, -0.88, -1.02]),
    (7.05, [2.0, 1.7, 1.4, 1.1, 0.8, 0.5, 0.2, -0.1, -0.4, -0.7, -0.98]),
    (7.15, [1.9, 1.6, 1.3, 1.0, 0.7, 0.4, 0.1, -0.2, -0.5, -0.8, -0.96]),
    (7.25, [1.8, 1.5, 1.2, 0.9, 0.6, 0.3, 0.0, -0.3, -0.6, -0.9]),
    (7.35, [1.72, 1.42, 1.12, 0.82, 0.52, 0.22, -0.08, -0.38, -0.68, -0.94]),
    (7.45, [1.64, 1.34, 1.04, 0.74, 0.44, 0.14, -0.16, -0.46, -0.76, -0.92]),
    (7.55, [1.56, 1.26, 0.96, 0.66, 0.36, 0.06, -0.24, -0.54, -0.84]),
    (7.65, [1.5, 1.2, 0.9, 0.6, 0.3, 0.0, -0.3, -0.6, -0.88]),
    (7.75, [1.46, 1.16, 0.86, 0.56, 0.26, -0.04, -0.34, -0.64, -0.88]),
    (7.85, [1.4, 1.1, 0.8, 0.5, 0.2, -0.1, -0.4, -0.7, -0.86]),
    (7.95, [1.36, 1.06, 0.76, 0.46, 0.16, -0.14, -0.44, -0.74, -0.86]),
    (8.05, [1.3, 1.0, 0.7, 0.4, 0.1, -0.2, -0.5, -0.8]),
    (8.15, [1.26, 0.96, 0.66, 0.36, 0.06, -0.24, -0.54, -0.8]),
    (8.25, [1.22, 0.92, 0.62, 0.32, 0.02, -0.28, -0.58, -0.8]),
    (8.35, [1.18, 0.88, 0.58, 0.28, -0.02, -0.32, -0.62, -0.76]),
    (8.45, [1.14, 0.84, 0.54, 0.24, -0.06, -0.36, -0.66, -0.78]),
    (8.55, [1.1, 0.8, 0.5, 0.2, -0.1, -0.4, -0.7]),
    (8.65, [1.06, 0.76, 0.46, 0.16, -0.14, -0.44, -0.7]),
    (8.75, [1.02, 0.72, 0.42, 0.12, -0.18, -0.48, -0.72]),
    (8.85, [0.98, 0.68, 0.38, 0.08, -0.22, -0.52, -0.7]),
    (8.95, [0.95, 0.65, 0.35, 0.05, -0.25, -0.55, -0.72]),
    (9.06, [0.94, 0.64, 0.34, 0.04, -0.26, -0.56, -0.72]),
    (9.18, [0.9, 0.6, 0.3, 0.0, -0.3, -0.6, -0.7]),
    (9.3, [0.86, 0.56, 0.26, -0.04, -0.34, -0.64]),
    (9.42, [0.85, 0.55, 0.25, -0.05, -0.35, -0.65]),
    (9.54, [0.82, 0.52, 0.22, -0.08, -0.38, -0.66]),
    (9.66, [0.8, 0.5, 0.2, -0.1, -0.4, -0.65]),
    (9.78, [0.78, 0.48, 0.18, -0.12, -0.42, -0.66]),
    (9.9, [0.75, 0.45, 0.15, -0.15, -0.45, -0.68]),
    (10.02, [0.72, 0.42, 0.12, -0.18, -0.48, -0.65]),
    (10.14, [0.7, 0.4, 0.1, -0.2, -0.5, -0.64]),
    (10.26, [0.68, 0.38, 0.08, -0.22, -0.52, -0.64]),
    (10.38, [0.64, 0.34, 0.04, -0.26, -0.56]),
    (10.5, [0.6, 0.3, 0.0, -0.3, -0.58]),
    (10.62, [0.56, 0.26, -0.04, -0.34, -0.58]),
    (10.74, [0.52, 0.22, -0.08, -0.38, -0.6]),
    (10.86, [0.48, 0.18, -0.12, -0.42, -0.58]),
    (10.98, [0.44, 0.14, -0.16, -0.46, -0.56]),
    (11.1, [0.4, 0.1, -0.2, -0.5]),
    (11.22, [0.36, 0.06, -0.24, -0.52]),
    (11.34, [0.32, 0.02, -0.28, -0.54]),
    (11.46, [0.28, -0.02, -0.32, -0.54]),
    (11.58, [0.22, -0.08, -0.38, -0.52]),
    (11.7, [0.18, -0.12, -0.42]),
    (11.82, [0.14, -0.16, -0.46]),
    (11.94, [0.08, -0.22, -0.48]),
    (12.06, [0.04, -0.26, -0.46]),
    (12.18, [-0.02, -0.32]),
]
b_upper_x = [1.62, 2.5, 3.6, 4.3, 5.2, 6.2, 7.2, 8.2, 9.3, 10.4, 11.5, 12.3, 12.98]
b_upper_y = [2.58, 2.27, 1.82, 1.5, 1.2, 0.92, 0.7, 0.52, 0.37, 0.25, 0.15, 0.1, 0.07]
b_lower_x = [1.32, 2.2, 3.2, 4.3, 5.3, 6.3, 7.3, 8.3, 9.4, 10.5, 11.6, 12.5, 13.54]
b_lower_y = [-2.14, -1.88, -1.55, -1.3, -1.07, -0.86, -0.68, -0.52, -0.37, -0.25, -0.15,
             -0.09, -0.05]

x_ticks_a = [0, 2, 4, 6, 8, 10, 12, 14]
x_ticks_b = [2, 4, 6, 8, 10, 12, 14]
y_ticks = [-5, 0, 5]


def pairs_xy(*groups):
    xs, ys = [], []
    for g in groups:
        for p in g:
            xs.append(p[0])
            ys.append(p[1])
    return xs, ys


def cols_xy(*groups):
    xs, ys = [], []
    for cols in groups:
        for x, yl in cols:
            for y in yl:
                xs.append(x)
                ys.append(y)
    return xs, ys


ax1, ay1 = pairs_xy(a_sparse, a_edge)
ax2, ay2 = cols_xy(a_columns, a_columns_fill)
bx1, by1 = pairs_xy(b_left, b_str1, b_str1b, b_str2, b_str2b, b_str3, b_str3b, b_str4,
                    b_str5, b_upper, b_lower)
bx2, by2 = cols_xy(b_columns, b_columns_fill)

marker = dict(symbol="circle-open", size=9.5, color="black", line=dict(width=1.5, color="black"))
line = dict(color="black", width=1.1, shape="spline", smoothing=0.6)

fig = go.Figure()
fig.add_trace(go.Scatter(x=ax2 + ax1, y=ay2 + ay1, mode="markers", marker=marker,
                         xaxis="x", yaxis="y"))
fig.add_trace(go.Scatter(x=a_upper_x, y=a_upper_y, mode="lines", line=line, xaxis="x", yaxis="y"))
fig.add_trace(go.Scatter(x=a_lower_x, y=a_lower_y, mode="lines", line=line, xaxis="x", yaxis="y"))
fig.add_trace(go.Scatter(x=bx2 + bx1, y=by2 + by1, mode="markers", marker=marker,
                         xaxis="x2", yaxis="y2"))
fig.add_trace(go.Scatter(x=b_upper_x, y=b_upper_y, mode="lines", line=line, xaxis="x2", yaxis="y2"))
fig.add_trace(go.Scatter(x=b_lower_x, y=b_lower_y, mode="lines", line=line, xaxis="x2", yaxis="y2"))

axis_common = dict(showgrid=False, zeroline=False, showline=True, linecolor="black",
                   linewidth=1.3, mirror=True, ticks="outside", ticklen=17, tickwidth=1.3,
                   tickcolor="black", showticklabels=False)

TICK_FONT = dict(family=FONT, size=26, color="#222")


def ann(text, x, y, size, angle=0):
    return dict(text=text, x=x / 723, y=1 - y / 1330, xref="paper", yref="paper",
                xanchor="center", yanchor="middle", showarrow=False, textangle=angle,
                font=dict(family=FONT, size=size, color="#111"))


annotations = [
    ann("A", 194, 60, 66),
    ann("B", 195, 773, 66),
    ann("Log2 of sum of spectral counts run1 and run2, PG_nm", 397, 575, 25.8),
    ann("Log2 of sum of spectral counts, PG_PP and PG_nm", 413, 1312, 25.8),
    ann("Log2 of run1/run2 spectral counts", 32, 226, 29, -90),
    ann("Log2 of PG_pp/PG_nm spectral counts", 32, 920, 29, -90),
]
# tick labels: start-aligned at the ticks, as in the original device output
for v in x_ticks_a:
    annotations.append(dict(text=str(v), x=v, xref="x", y=1 - 527 / 1330, yref="paper",
                            xanchor="left", yanchor="middle", showarrow=False, xshift=-1,
                            font=TICK_FONT))
for v in x_ticks_b:
    annotations.append(dict(text=str(v), x=v, xref="x2", y=1 - 1242 / 1330, yref="paper",
                            xanchor="left", yanchor="middle", showarrow=False, xshift=-1,
                            font=TICK_FONT))
for v in y_ticks:
    annotations.append(dict(text=str(v), x=90 / 723, xref="paper", y=v, yref="y",
                            xanchor="center", yanchor="bottom", textangle=-90, yshift=-2,
                            showarrow=False, font=TICK_FONT))
    annotations.append(dict(text=str(v), x=90 / 723, xref="paper", y=v, yref="y2",
                            xanchor="center", yanchor="bottom", textangle=-90, yshift=-2,
                            showarrow=False, font=TICK_FONT))

fig.update_layout(
    width=723, height=1330, margin=dict(l=0, r=0, t=0, b=0),
    paper_bgcolor="white", plot_bgcolor="white", showlegend=False,
    xaxis=dict(domain=[0.1928, 0.9718], range=[-0.59, 14.55], tickvals=x_ticks_a,
               anchor="y", **axis_common),
    yaxis=dict(domain=[0.6481, 0.9925], range=[-8.6, 8.65], tickvals=y_ticks,
               anchor="x", **axis_common),
    xaxis2=dict(domain=[0.1943, 0.9708], range=[1.3, 14.33], tickvals=x_ticks_b,
                anchor="y2", **axis_common),
    yaxis2=dict(domain=[0.1098, 0.4534], range=[-8.64, 8.6], tickvals=y_ticks,
                anchor="x2", **axis_common),
    annotations=annotations,
)

fig.write_html("out.html")
